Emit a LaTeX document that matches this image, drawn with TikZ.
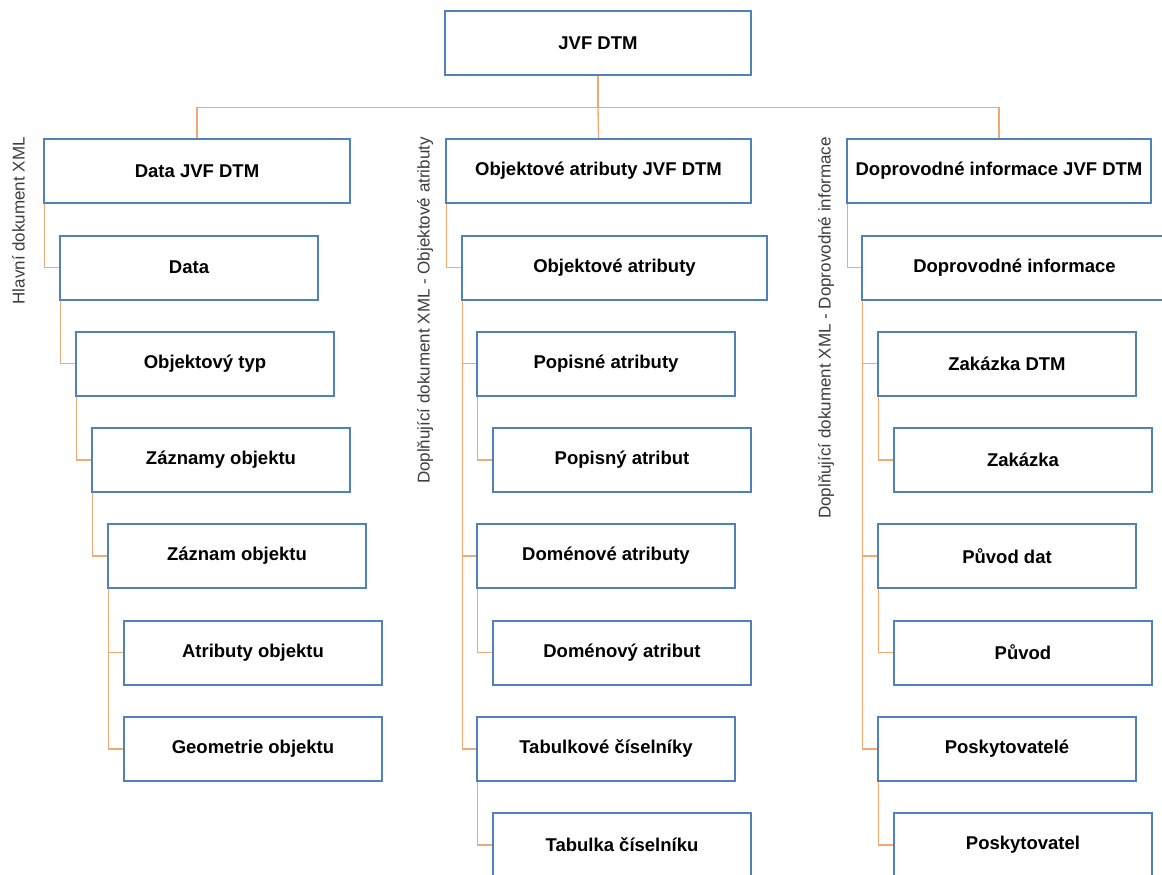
\documentclass[tikz,border=0pt]{standalone}
\usepackage{fontspec}
\setmainfont{Liberation Sans}
\usetikzlibrary{backgrounds}
\definecolor{boxblue}{RGB}{79,129,189}
\definecolor{linkorange}{RGB}{242,168,110}
\definecolor{sidegray}{RGB}{60,60,60}
\begin{document}
\begin{tikzpicture}[x=1pt,y=-1pt,
  box/.style={draw=boxblue,line width=2pt,fill=white,minimum width=258pt,minimum height=64pt,
    inner sep=0pt,font=\fontsize{18.5}{20}\selectfont\bfseries},
  widebox/.style={box,minimum width=306pt},
  conn/.style={draw=linkorange,line width=1.3pt},
  side/.style={rotate=90,anchor=east,inner sep=0pt,text=sidegray,font=\fontsize{17}{19}\selectfont}]
\useasboundingbox (0,0) rectangle (1162,875);

% root
\node[widebox] (root) at (598,43) {JVF DTM};

% column headers
\node[widebox] (h1) at (197,171) {Data JVF DTM};
\node[widebox,minimum width=305pt] (h2) at (598.5,171) {Objektové atributy JVF DTM};
\node[widebox,minimum width=304pt] (h3) at (999,171) {Doprovodné informace JVF DTM};

% column 1
\node[box] (d)  at (189,267.5) {Data};
\node[box] (ot) at (205,363.5) {Objektový typ};
\node[box] (zs) at (221,460) {Záznamy objektu};
\node[box] (z)  at (237,556) {Záznam objektu};
\node[box] (ao) at (253,652.5) {Atributy objektu};
\node[box] (go) at (253,749) {Geometrie objektu};

% column 2
\node[box,minimum width=305pt] (oa) at (614.5,267.5) {Objektové atributy};
\node[box] (pa)  at (606,363.5) {Popisné atributy};
\node[box] (pat) at (622,460) {Popisný atribut};
\node[box] (da)  at (606,556) {Doménové atributy};
\node[box] (dat) at (622,652.5) {Doménový atribut};
\node[box] (tc)  at (606,749) {Tabulkové číselníky};
\node[box] (tcl) at (622,845) {Tabulka číselníku};

% column 3
\node[box,minimum width=305pt] (di) at (1014.5,267.5) {Doprovodné informace};
\node[box] (zd)  at (1007,363.5) {Zakázka DTM};
\node[box] (zk)  at (1023,460) {Zakázka};
\node[box] (pd)  at (1007,556) {Původ dat};
\node[box] (pv)  at (1023,652.5) {Původ};
\node[box] (ps)  at (1007,749) {Poskytovatelé};
\node[box] (psl) at (1023,845) {Poskytovatel};

% side captions
\node[side] (s1) at (18.5,137) {Hlavní dokument XML};
\node[side] (s2) at (425,137) {Doplňující dokument XML - Objektové atributy};
\node[side] (s3) at (826,137) {Doplňující dokument XML - Doprovodné informace};

\begin{pgfonlayer}{background}
% top-level bus
\coordinate (bus) at (598,107.5);
\draw[conn] (root.south) -- (bus);
\draw[conn] (h1.north) |- (bus) -| (h3.north);
\draw[conn] (bus) -- (h2.north);

% elbow links from each parent's lower left corner
\foreach \p/\c in {h1/d, d/ot, ot/zs, zs/z, z/ao, z/go,
                   h2/oa, oa/pa, oa/da, oa/tc, pa/pat, da/dat, tc/tcl,
                   h3/di, di/zd, di/pd, di/ps, zd/zk, pd/pv, ps/psl}
  \draw[conn] ([xshift=1.5pt]\p.south west) |- (\c.west);
\end{pgfonlayer}
\end{tikzpicture}
\end{document}
